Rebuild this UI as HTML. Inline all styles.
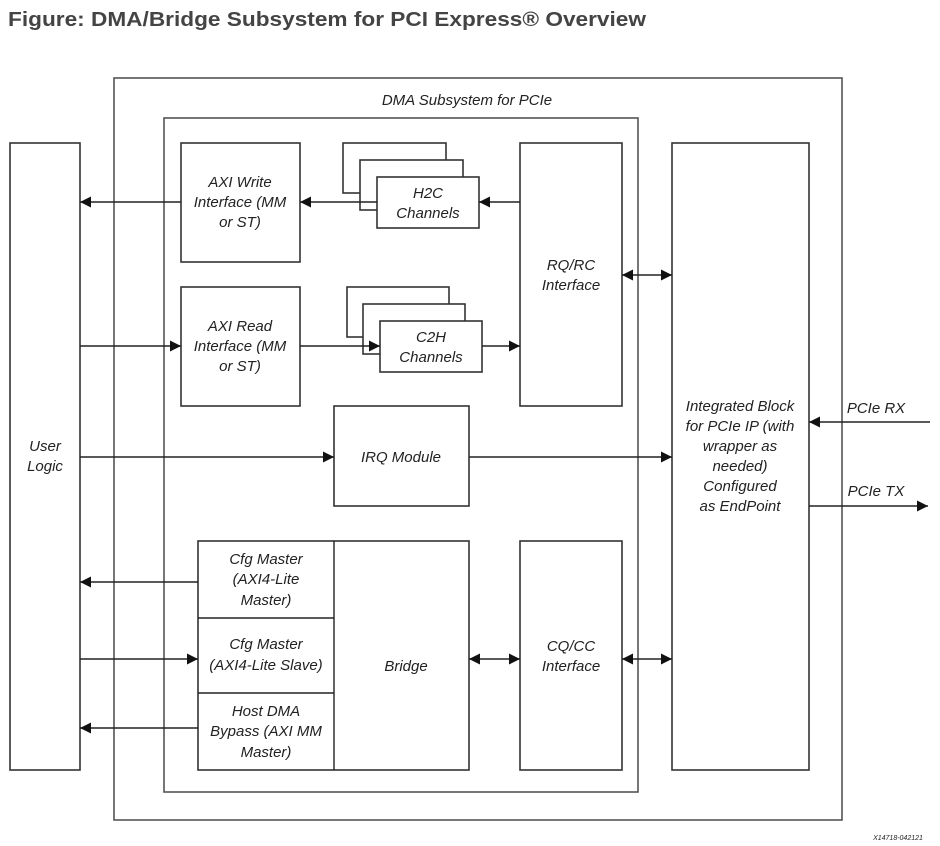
<!DOCTYPE html>
<html><head><meta charset="utf-8"><style>
html,body{margin:0;padding:0;background:#fff;}
svg{display:block;}
text{font-family:"Liberation Sans",sans-serif;font-style:italic;font-size:15px;fill:#222;text-anchor:middle;}
.t{font-style:normal;font-weight:bold;font-size:20px;fill:#444;text-anchor:start;}
rect{fill:#fff;stroke:#333;stroke-width:1.6;}
line{stroke:#222;stroke-width:1.4;}
</style></head><body>
<svg width="940" height="846" viewBox="0 0 940 846">
<defs>
<marker id="a" viewBox="0 0 10 10" refX="10" refY="5" markerWidth="16" markerHeight="11" markerUnits="userSpaceOnUse" orient="auto-start-reverse"><path d="M0,0 L10,5 L0,10 z" fill="#111"/></marker>
</defs>
<text class="t" x="8" y="26" textLength="638" lengthAdjust="spacingAndGlyphs">Figure: DMA/Bridge Subsystem for PCI Express® Overview</text>
<rect x="114" y="78" width="728" height="742" style="stroke:#555"/>
<text x="467" y="105">DMA Subsystem for PCIe</text>
<rect x="164" y="118" width="474" height="674" style="stroke:#555"/>
<rect x="10" y="143" width="70" height="627"/>
<text x="45" y="451">User</text><text x="45" y="471">Logic</text>
<rect x="181" y="143" width="119" height="119"/>
<text x="240" y="187">AXI Write</text><text x="240" y="207">Interface (MM</text><text x="240" y="227">or ST)</text>
<rect x="343" y="143" width="103" height="50"/>
<rect x="360" y="160" width="103" height="50"/>
<rect x="377" y="177" width="102" height="51"/>
<text x="428" y="198">H2C</text><text x="428" y="218">Channels</text>
<rect x="520" y="143" width="102" height="263"/>
<text x="571" y="270">RQ/RC</text><text x="571" y="290">Interface</text>
<rect x="181" y="287" width="119" height="119"/>
<text x="240" y="331">AXI Read</text><text x="240" y="351">Interface (MM</text><text x="240" y="371">or ST)</text>
<rect x="347" y="287" width="102" height="50"/>
<rect x="363" y="304" width="102" height="50"/>
<rect x="380" y="321" width="102" height="51"/>
<text x="431" y="342">C2H</text><text x="431" y="362">Channels</text>
<rect x="334" y="406" width="135" height="100"/>
<text x="401" y="462">IRQ Module</text>
<rect x="198" y="541" width="271" height="229"/>
<line x1="334" y1="541" x2="334" y2="770"/>
<line x1="198" y1="618" x2="334" y2="618"/>
<line x1="198" y1="693" x2="334" y2="693"/>
<text x="266" y="564">Cfg Master</text><text x="266" y="584">(AXI4-Lite</text><text x="266" y="605">Master)</text>
<text x="266" y="649">Cfg Master</text><text x="266" y="670">(AXI4-Lite Slave)</text>
<text x="266" y="716">Host DMA</text><text x="266" y="736">Bypass (AXI MM</text><text x="266" y="757">Master)</text>
<text x="406" y="671">Bridge</text>
<rect x="520" y="541" width="102" height="229"/>
<text x="571" y="651">CQ/CC</text><text x="571" y="671">Interface</text>
<rect x="672" y="143" width="137" height="627"/>
<text x="740" y="411">Integrated Block</text><text x="740" y="431">for PCIe IP (with</text><text x="740" y="451">wrapper as</text><text x="740" y="471">needed)</text><text x="740" y="491">Configured</text><text x="740" y="511">as EndPoint</text>
<line x1="181" y1="202" x2="80" y2="202" marker-end="url(#a)"/>
<line x1="377" y1="202" x2="300" y2="202" marker-end="url(#a)"/>
<line x1="520" y1="202" x2="479" y2="202" marker-end="url(#a)"/>
<line x1="80" y1="346" x2="181" y2="346" marker-end="url(#a)"/>
<line x1="300" y1="346" x2="380" y2="346" marker-end="url(#a)"/>
<line x1="482" y1="346" x2="520" y2="346" marker-end="url(#a)"/>
<line x1="80" y1="457" x2="334" y2="457" marker-end="url(#a)"/>
<line x1="469" y1="457" x2="672" y2="457" marker-end="url(#a)"/>
<line x1="622" y1="275" x2="672" y2="275" marker-start="url(#a)" marker-end="url(#a)"/>
<line x1="469" y1="659" x2="520" y2="659" marker-start="url(#a)" marker-end="url(#a)"/>
<line x1="622" y1="659" x2="672" y2="659" marker-start="url(#a)" marker-end="url(#a)"/>
<line x1="198" y1="582" x2="80" y2="582" marker-end="url(#a)"/>
<line x1="80" y1="659" x2="198" y2="659" marker-end="url(#a)"/>
<line x1="198" y1="728" x2="80" y2="728" marker-end="url(#a)"/>
<line x1="930" y1="422" x2="809" y2="422" marker-end="url(#a)"/>
<line x1="809" y1="506" x2="928" y2="506" marker-end="url(#a)"/>
<text x="876" y="413">PCIe RX</text>
<text x="876" y="496">PCIe TX</text>
<text x="898" y="840" style="font-size:7px">X14718-042121</text>
</svg>
</body></html>
